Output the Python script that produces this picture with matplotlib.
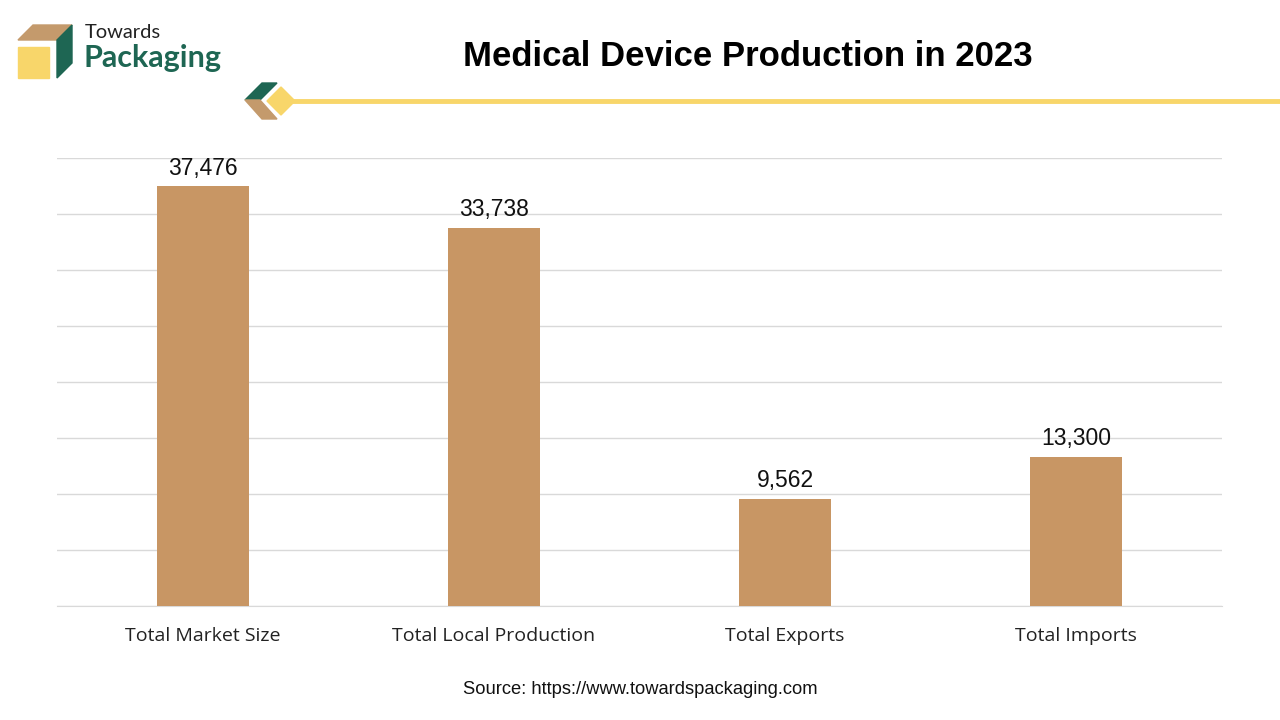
import matplotlib.pyplot as plt
from matplotlib.patches import Polygon
import numpy as np

categories = ['Total Market Size', 'Total Local Production', 'Total Exports', 'Total Imports']
values = [37476, 33738, 9562, 13300]

bar_color = '#C89664'
green = '#1E6653'
tan = '#C49A6C'
yellow = '#F8D66A'

fig = plt.figure(figsize=(12.8, 7.2), dpi=100)
W, H = 1280, 720

def px(x, y):
    return (x / W, 1 - y / H)

ax = fig.add_axes([57 / W, 1 - 606 / H, (1222 - 57) / W, (606 - 158) / H])
x = np.arange(len(categories))
ax.bar(x, values, width=0.316, color=bar_color, zorder=3)
for xi, v in zip(x, values):
    ax.text(xi, v + 600, f'{v:,}', ha='center', va='bottom', fontsize=16.5,
            family='Liberation Sans', color='#111111')
ax.set_xlim(-0.5, len(categories) - 0.5)
ax.set_ylim(0, 40000)
ax.set_yticks(np.arange(0, 40001, 5000))
ax.yaxis.grid(True, color='#D9D9D9', linewidth=1)
ax.tick_params(axis='y', left=False, labelleft=False)
ax.tick_params(axis='x', length=0, pad=15)
ax.set_xticks(x)
ax.set_xticklabels(categories, fontsize=14, family='Open Sans', color='#222222')
for s in ['top', 'right', 'left']:
    ax.spines[s].set_visible(False)
ax.spines['bottom'].set_color('#D9D9D9')

# title
fig.text(*px(748, 56), 'Medical Device Production in 2023', ha='center', va='center',
         fontsize=25, fontweight='bold', family='Liberation Sans', color='black')

# yellow rule with diamonds
fig.add_artist(plt.Line2D([290 / W, 1.0], [1 - 101 / H] * 2, color=yellow, linewidth=3.5))
fig.add_artist(Polygon([px(245, 100), px(262, 83), px(277, 83), px(260, 100)], closed=True,
                       color=green, transform=fig.transFigure))
fig.add_artist(Polygon([px(245, 100), px(260, 100), px(277, 119), px(262, 119)], closed=True,
                       color=tan, transform=fig.transFigure))
fig.add_artist(Polygon([px(281, 87), px(295, 101), px(281, 115), px(267, 101)], closed=True,
                       color=yellow, transform=fig.transFigure))

# logo
fig.add_artist(Polygon([px(18, 40), px(33, 25), px(72, 25), px(57, 40)], closed=True,
                       color=tan, transform=fig.transFigure))
fig.add_artist(Polygon([px(57, 40), px(72, 25), px(72, 63), px(57, 78)], closed=True,
                       color=green, transform=fig.transFigure))
fig.add_artist(Polygon([px(18, 47), px(49, 47), px(49, 78), px(18, 78)], closed=True,
                       color=yellow, transform=fig.transFigure))
fig.text(*px(85, 32), 'Towards', ha='left', va='center', fontsize=14.5,
         family='Lato', color='#222222')
fig.text(*px(84, 58), 'Packaging', ha='left', va='center', fontsize=22,
         fontweight='bold', family='Lato', color=green)

# source
fig.text(*px(640, 689), 'Source: https://www.towardspackaging.com', ha='center', va='center',
         fontsize=13.2, family='Liberation Sans', color='#111111')

fig.savefig('out.png', dpi=100)
